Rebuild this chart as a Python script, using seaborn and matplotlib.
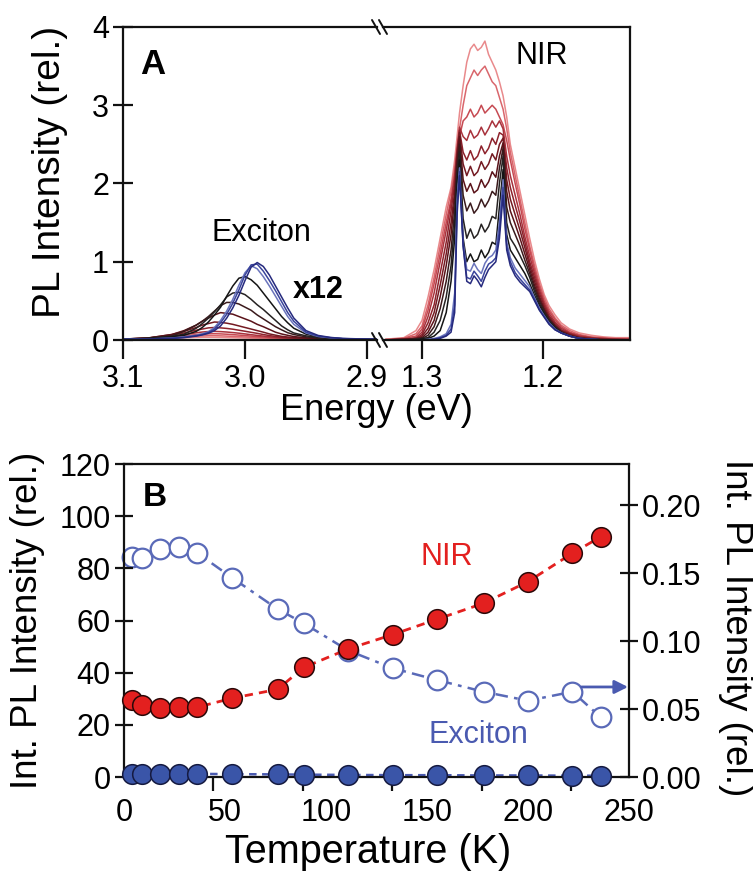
import matplotlib
matplotlib.use("Agg")
import matplotlib.pyplot as plt
import seaborn as sns
from matplotlib.lines import Line2D

# ---------------- Panel A data (spectra) ----------------
E_exc = [3.100, 3.080, 3.060, 3.050, 3.040, 3.035, 3.030, 3.025, 3.020, 3.015, 3.010, 3.005, 3.000,
         2.995, 2.990, 2.985, 2.980, 2.975, 2.970, 2.965, 2.960, 2.950, 2.940, 2.930, 2.920, 2.890]

exc0 = [0.010, 0.012, 0.020, 0.030, 0.050, 0.065, 0.085, 0.12, 0.18, 0.28, 0.41, 0.57, 0.76, 0.93, 0.99, 0.94, 0.83, 0.69, 0.55, 0.41, 0.28, 0.12, 0.058, 0.033, 0.020, 0.008]
exc1 = [0.010, 0.013, 0.022, 0.035, 0.055, 0.070, 0.095, 0.14, 0.22, 0.33, 0.47, 0.64, 0.83, 0.96, 0.97, 0.88, 0.76, 0.63, 0.49, 0.35, 0.24, 0.10, 0.050, 0.030, 0.018, 0.007]
exc2 = [0.010, 0.013, 0.025, 0.040, 0.060, 0.080, 0.105, 0.16, 0.25, 0.37, 0.52, 0.70, 0.86, 0.95, 0.91, 0.81, 0.69, 0.56, 0.43, 0.30, 0.20, 0.09, 0.045, 0.028, 0.017, 0.007]
exc3 = [0.012, 0.017, 0.040, 0.060, 0.11, 0.16, 0.23, 0.32, 0.42, 0.56, 0.69, 0.79, 0.81, 0.77, 0.70, 0.60, 0.50, 0.40, 0.30, 0.22, 0.15, 0.075, 0.040, 0.025, 0.016, 0.008]
exc4 = [0.011, 0.020, 0.045, 0.075, 0.15, 0.21, 0.28, 0.36, 0.45, 0.55, 0.60, 0.61, 0.58, 0.52, 0.45, 0.39, 0.32, 0.25, 0.18, 0.13, 0.09, 0.053, 0.030, 0.020, 0.014, 0.007]
exc5 = [0.012, 0.025, 0.054, 0.11, 0.19, 0.24, 0.30, 0.37, 0.44, 0.48, 0.48, 0.46, 0.42, 0.38, 0.32, 0.27, 0.22, 0.17, 0.13, 0.093, 0.070, 0.040, 0.025, 0.017, 0.012, 0.006]
exc6 = [0.012, 0.025, 0.070, 0.12, 0.19, 0.24, 0.28, 0.32, 0.35, 0.34, 0.33, 0.30, 0.27, 0.24, 0.20, 0.17, 0.135, 0.10, 0.077, 0.060, 0.044, 0.028, 0.018, 0.013, 0.010, 0.005]
exc7 = [0.012, 0.023, 0.070, 0.11, 0.16, 0.19, 0.21, 0.23, 0.225, 0.215, 0.20, 0.18, 0.16, 0.14, 0.12, 0.10, 0.078, 0.062, 0.047, 0.038, 0.030, 0.020, 0.014, 0.010, 0.008, 0.005]
exc8 = [0.012, 0.022, 0.060, 0.090, 0.125, 0.14, 0.155, 0.16, 0.155, 0.148, 0.138, 0.125, 0.112, 0.098, 0.085, 0.070, 0.057, 0.045, 0.036, 0.029, 0.024, 0.017, 0.012, 0.009, 0.007, 0.005]
exc9 = [0.012, 0.020, 0.045, 0.068, 0.092, 0.102, 0.108, 0.11, 0.107, 0.102, 0.095, 0.087, 0.078, 0.068, 0.059, 0.050, 0.041, 0.034, 0.028, 0.023, 0.019, 0.014, 0.011, 0.009, 0.007, 0.005]
exc10 = [0.012, 0.018, 0.036, 0.052, 0.068, 0.075, 0.079, 0.080, 0.078, 0.074, 0.069, 0.063, 0.057, 0.050, 0.044, 0.038, 0.032, 0.027, 0.023, 0.019, 0.016, 0.012, 0.010, 0.008, 0.007, 0.005]
exc11 = [0.011, 0.016, 0.028, 0.038, 0.048, 0.052, 0.055, 0.055, 0.053, 0.050, 0.047, 0.043, 0.039, 0.035, 0.031, 0.027, 0.024, 0.021, 0.018, 0.016, 0.014, 0.011, 0.009, 0.008, 0.007, 0.005]
exc12 = [0.010, 0.014, 0.022, 0.028, 0.033, 0.035, 0.035, 0.034, 0.033, 0.031, 0.029, 0.027, 0.025, 0.023, 0.021, 0.019, 0.017, 0.015, 0.014, 0.012, 0.011, 0.010, 0.008, 0.007, 0.006, 0.005]

E_nir = [1.330, 1.315, 1.305, 1.300, 1.295, 1.290, 1.285, 1.280, 1.276, 1.273, 1.271, 1.269,
         1.266, 1.263, 1.260, 1.257, 1.254, 1.251, 1.248, 1.245, 1.242, 1.239, 1.236, 1.233,
         1.230, 1.227, 1.223, 1.219, 1.215, 1.211, 1.207, 1.203, 1.199, 1.195,
         1.190, 1.185, 1.178, 1.170, 1.160, 1.150, 1.140, 1.125]

nir0 = [0.00, 0.00, 0.00, 0.00, 0.00, 0.01, 0.02, 0.05, 0.10, 0.35, 1.60, 2.10, 1.20, 0.75, 0.72, 0.82, 0.76, 0.68, 0.80, 0.90, 0.95, 1.00, 1.30, 1.85, 1.15, 0.95, 0.82, 0.74, 0.68, 0.62, 0.50, 0.38, 0.29, 0.20, 0.13, 0.09, 0.05, 0.02, 0.01, 0.00, 0.00, 0.00]
nir1 = [0.00, 0.00, 0.00, 0.00, 0.00, 0.01, 0.03, 0.06, 0.14, 0.45, 1.70, 2.15, 1.20, 0.80, 0.78, 0.88, 0.82, 0.75, 0.88, 0.97, 1.00, 1.05, 1.40, 1.95, 1.20, 1.00, 0.86, 0.78, 0.71, 0.64, 0.52, 0.39, 0.30, 0.21, 0.13, 0.09, 0.05, 0.02, 0.01, 0.00, 0.00, 0.00]
nir2 = [0.00, 0.00, 0.00, 0.00, 0.01, 0.02, 0.04, 0.08, 0.20, 0.60, 1.80, 2.20, 1.25, 0.90, 0.88, 0.98, 0.90, 0.85, 0.98, 1.05, 1.08, 1.15, 1.50, 2.05, 1.25, 1.05, 0.92, 0.84, 0.76, 0.68, 0.54, 0.41, 0.31, 0.22, 0.14, 0.09, 0.05, 0.02, 0.01, 0.00, 0.00, 0.00]
nir3 = [0.00, 0.00, 0.00, 0.01, 0.02, 0.05, 0.12, 0.35, 0.75, 1.30, 2.00, 2.30, 1.30, 1.00, 1.10, 1.00, 1.03, 1.15, 1.05, 1.12, 1.25, 1.22, 1.70, 2.18, 1.35, 1.15, 1.05, 0.95, 0.85, 0.72, 0.57, 0.44, 0.33, 0.23, 0.15, 0.09, 0.05, 0.02, 0.01, 0.00, 0.00, 0.00]
nir4 = [0.00, 0.00, 0.01, 0.02, 0.03, 0.10, 0.25, 0.55, 0.95, 1.50, 2.10, 2.40, 1.55, 1.30, 1.42, 1.30, 1.35, 1.48, 1.38, 1.45, 1.58, 1.55, 2.00, 2.35, 1.50, 1.30, 1.20, 1.08, 0.95, 0.80, 0.62, 0.47, 0.35, 0.25, 0.16, 0.10, 0.05, 0.02, 0.01, 0.00, 0.00, 0.00]
nir5 = [0.00, 0.00, 0.01, 0.02, 0.06, 0.17, 0.40, 0.75, 1.15, 1.65, 2.20, 2.50, 1.85, 1.65, 1.75, 1.62, 1.68, 1.80, 1.70, 1.78, 1.90, 1.85, 2.20, 2.45, 1.70, 1.50, 1.35, 1.20, 1.02, 0.85, 0.66, 0.50, 0.37, 0.26, 0.17, 0.10, 0.05, 0.02, 0.01, 0.00, 0.00, 0.00]
nir6 = [0.00, 0.01, 0.02, 0.03, 0.10, 0.25, 0.55, 0.95, 1.35, 1.80, 2.30, 2.60, 2.05, 1.90, 2.00, 1.88, 1.92, 2.05, 1.95, 2.02, 2.15, 2.08, 2.35, 2.52, 1.90, 1.65, 1.48, 1.30, 1.10, 0.90, 0.70, 0.53, 0.39, 0.27, 0.18, 0.11, 0.06, 0.03, 0.01, 0.00, 0.00, 0.00]
nir7 = [0.00, 0.01, 0.01, 0.05, 0.15, 0.35, 0.70, 1.10, 1.50, 1.90, 2.35, 2.65, 2.25, 2.10, 2.22, 2.10, 2.15, 2.28, 2.18, 2.25, 2.38, 2.30, 2.50, 2.58, 2.05, 1.80, 1.60, 1.40, 1.18, 0.95, 0.75, 0.56, 0.41, 0.29, 0.19, 0.12, 0.07, 0.03, 0.02, 0.01, 0.00, 0.00]
nir8 = [0.00, 0.01, 0.02, 0.07, 0.22, 0.45, 0.85, 1.25, 1.65, 2.00, 2.40, 2.68, 2.40, 2.30, 2.42, 2.30, 2.35, 2.48, 2.38, 2.45, 2.58, 2.50, 2.65, 2.62, 2.20, 1.95, 1.72, 1.50, 1.25, 1.00, 0.80, 0.60, 0.44, 0.31, 0.21, 0.13, 0.08, 0.04, 0.02, 0.01, 0.01, 0.00]
nir9 = [0.00, 0.01, 0.03, 0.10, 0.30, 0.60, 1.00, 1.40, 1.75, 2.10, 2.45, 2.72, 2.60, 2.55, 2.68, 2.58, 2.62, 2.72, 2.62, 2.70, 2.80, 2.72, 2.80, 2.70, 2.35, 2.10, 1.85, 1.60, 1.32, 1.07, 0.85, 0.64, 0.47, 0.34, 0.23, 0.15, 0.09, 0.05, 0.03, 0.02, 0.01, 0.01]
nir10 = [0.00, 0.02, 0.05, 0.14, 0.38, 0.72, 1.10, 1.50, 1.80, 2.10, 2.35, 2.60, 2.80, 2.85, 2.95, 2.85, 2.90, 3.00, 2.90, 2.95, 3.00, 2.95, 2.85, 2.75, 2.55, 2.30, 2.00, 1.72, 1.42, 1.15, 0.90, 0.68, 0.50, 0.37, 0.26, 0.17, 0.10, 0.06, 0.03, 0.02, 0.01, 0.01]
nir11 = [0.01, 0.02, 0.08, 0.18, 0.45, 0.80, 1.20, 1.60, 1.90, 2.20, 2.45, 2.70, 3.00, 3.25, 3.35, 3.45, 3.38, 3.45, 3.50, 3.40, 3.30, 3.25, 3.10, 2.95, 2.70, 2.40, 2.10, 1.80, 1.50, 1.20, 0.95, 0.72, 0.54, 0.40, 0.28, 0.19, 0.12, 0.07, 0.04, 0.03, 0.02, 0.02]
nir12 = [0.01, 0.03, 0.12, 0.25, 0.55, 0.90, 1.30, 1.70, 1.95, 2.30, 2.60, 2.90, 3.25, 3.55, 3.72, 3.78, 3.70, 3.74, 3.82, 3.65, 3.55, 3.45, 3.30, 3.12, 2.85, 2.50, 2.20, 1.90, 1.60, 1.30, 1.02, 0.78, 0.58, 0.44, 0.32, 0.22, 0.14, 0.09, 0.06, 0.04, 0.03, 0.03]

curve_colors = ['#262a7e', '#3a449c', '#6a74bc', '#151515', '#262222', '#3a1a1c',
                '#5a1219', '#741a22', '#8e222c', '#a8323c', '#c64a52', '#d9666c', '#e98a8c']

# ---------------- Panel B data ----------------
temperature = [4, 9, 18, 27, 36, 53.5, 76, 89, 111, 133, 155, 178, 200, 222, 236]
nir_int = [29.5, 27.6, 26.3, 26.7, 26.7, 30.2, 33.6, 42.0, 49.1, 54.6, 60.5, 66.6, 74.9, 85.8, 92.1]
exc_int_left = [1.2, 1.2, 1.3, 1.3, 1.2, 1.1, 1.0, 0.9, 0.8, 0.7, 0.7, 0.6, 0.6, 0.5, 0.5]
exc_int_right = [0.162, 0.161, 0.168, 0.169, 0.165, 0.1465, 0.1235, 0.113, 0.093, 0.080, 0.0713, 0.0627, 0.0561, 0.0627, 0.0439]
minor_tick_pos = [0, 44.2, 88.5, 132.7, 177, 221.2]

# ---------------- Styling ----------------
sns.set_theme(style="ticks")
plt.rcParams['font.family'] = ['Liberation Sans', 'DejaVu Sans']
plt.rcParams['axes.linewidth'] = 1.6
plt.rcParams['axes.edgecolor'] = '#111111'
plt.rcParams['text.color'] = 'black'

W, H = 753, 871
fig = plt.figure(figsize=(W / 100, H / 100), dpi=100)


def box(l, t, r, b):
    return [l / W, 1 - b / H, (r - l) / W, (b - t) / H]


TICK_FS = 22
LABEL_FS = 26

# ---------------- Panel A ----------------
axL = fig.add_axes(box(123, 27, 377, 340))
axR = fig.add_axes(box(383, 27, 630, 340))

exc_curves = [exc0, exc1, exc2, exc3, exc4, exc5, exc6, exc7, exc8, exc9, exc10, exc11, exc12]
nir_curves = [nir0, nir1, nir2, nir3, nir4, nir5, nir6, nir7, nir8, nir9, nir10, nir11, nir12]
for i in reversed(range(len(exc_curves))):
    sns.lineplot(x=E_exc, y=exc_curves[i], color=curve_colors[i], lw=1.1, ax=axL,
                 sort=False, estimator=None, legend=False)
for i in reversed(range(len(nir_curves))):
    sns.lineplot(x=E_nir, y=nir_curves[i], color=curve_colors[i], lw=1.1, ax=axR,
                 sort=False, estimator=None, legend=False)

axL.set_xlim(3.1, 3.1 - (377 - 123) / 1220)
axR.set_xlim(1.3 + (422 - 383) / 1210, 1.3 - (630 - 422) / 1210)
for ax in (axL, axR):
    ax.set_ylim(0, 4)
    ax.set_xlabel('')
    ax.set_ylabel('')
axL.spines['right'].set_visible(False)
axR.spines['left'].set_visible(False)

axL.set_xticks([3.1, 3.0, 2.9])
axL.set_xticklabels(['3.1', '3.0', '2.9'])
axR.set_xticks([1.3, 1.2])
axR.set_xticklabels(['1.3', '1.2'])
axL.set_yticks([0, 1, 2, 3, 4])
axL.set_yticklabels(['0', '1', '2', '3', '4'])
axR.set_yticks([])
for ax in (axL, axR):
    ax.tick_params(axis='x', direction='out', length=14, width=1.6, labelsize=TICK_FS, pad=3,
                   color='#111111', labelcolor='black')
axL.tick_params(axis='y', direction='inout', length=14, width=1.6, labelsize=TICK_FS, pad=3,
                color='#111111', labelcolor='black')

# break marks
for xb in (376, 383):
    for yb in (27, 340):
        fig.add_artist(Line2D([(xb - 4) / W, (xb + 4) / W], [1 - (yb - 7) / H, 1 - (yb + 7) / H],
                              color='#111111', lw=1.4, transform=fig.transFigure))

fig.text(50 / W, 1 - 172 / H, 'PL Intensity (rel.)', rotation=90, ha='center', va='center', fontsize=28)
fig.text(376 / W, 1 - 410 / H, 'Energy (eV)', ha='center', va='center', fontsize=LABEL_FS)
fig.text(153 / W, 1 - 64 / H, 'A', ha='center', va='center', fontsize=25, fontweight='bold')
fig.text(261 / W, 1 - 233 / H, 'Exciton', ha='center', va='center', fontsize=22)
fig.text(318 / W, 1 - 290 / H, 'x12', ha='center', va='center', fontsize=22, fontweight='bold')
fig.text(542 / W, 1 - 56 / H, 'NIR', ha='center', va='center', fontsize=22)

# ---------------- Panel B ----------------
axB = fig.add_axes(box(124, 464, 629, 777))
ax2 = axB.twinx()

red_face = '#e3201f'
blue_face = '#3a55a8'
open_edge = '#5a6ab8'

sns.lineplot(x=temperature, y=exc_int_right, color=open_edge, lw=1.8, linestyle=(0, (5, 2.5, 1.5, 2.5)),
             ax=ax2, sort=False, estimator=None, legend=False)
sns.scatterplot(x=temperature, y=exc_int_right, s=200, facecolor='white', edgecolor=open_edge,
                linewidth=1.6, ax=ax2, zorder=3, clip_on=False, legend=False)

sns.lineplot(x=temperature, y=nir_int, color=red_face, lw=2.0, linestyle=(0, (3, 2.2)),
             ax=axB, sort=False, estimator=None, legend=False)
sns.lineplot(x=temperature, y=exc_int_left, color='#4a5ab0', lw=1.8, linestyle=(0, (3, 2.2)),
             ax=axB, sort=False, estimator=None, legend=False)
sns.scatterplot(x=temperature, y=exc_int_left, s=200, color=blue_face, edgecolor='#151a40',
                linewidth=1.1, ax=axB, zorder=4, clip_on=False, legend=False)
sns.scatterplot(x=temperature, y=nir_int, s=200, color=red_face, edgecolor='#2a0808',
                linewidth=1.1, ax=axB, zorder=4, clip_on=False, legend=False)

axB.set_zorder(ax2.get_zorder() + 1)
axB.patch.set_visible(False)

axB.set_xlim(0, 250)
axB.set_ylim(0, 120)
ax2.set_ylim(0, 0.20 * 313 / 272)

axB.set_xticks([0, 50, 100, 150, 200, 250])
axB.set_xticklabels(['0', '50', '100', '150', '200', '250'])
axB.set_xticks(minor_tick_pos, minor=True)
axB.tick_params(axis='x', which='major', length=0, labelsize=TICK_FS, pad=15, labelcolor='black')
axB.tick_params(axis='x', which='minor', direction='out', length=10, width=1.6, color='#111111')
axB.set_yticks([0, 20, 40, 60, 80, 100, 120])
axB.set_yticklabels(['0', '20', '40', '60', '80', '100', '120'])
axB.tick_params(axis='y', direction='inout', length=13, width=1.6, labelsize=TICK_FS, pad=3,
                color='#111111', labelcolor='black')
ax2.set_yticks([0, 0.05, 0.10, 0.15, 0.20])
ax2.set_yticklabels(['0.00', '0.05', '0.10', '0.15', '0.20'])
ax2.tick_params(axis='y', direction='inout', length=13, width=1.6, labelsize=TICK_FS, pad=3,
                color='#111111', labelcolor='black')
for sp in ax2.spines.values():
    sp.set_visible(False)
for sp in axB.spines.values():
    sp.set_visible(True)
    sp.set_linewidth(1.6)

axB.set_xlabel('')
axB.set_ylabel('')
ax2.set_ylabel('')
fig.text(368 / W, 1 - 852 / H, 'Temperature (K)', ha='center', va='center', fontsize=28.5)
fig.text(28 / W, 1 - 620 / H, 'Int. PL Intensity (rel.)', rotation=90, ha='center', va='center', fontsize=26.5)
fig.text(736 / W, 1 - 628 / H, 'Int. PL Intensity (rel.)', rotation=270, ha='center', va='center', fontsize=26.5)
fig.text(155 / W, 1 - 497 / H, 'B', ha='center', va='center', fontsize=24, fontweight='bold')
fig.text(447 / W, 1 - 557 / H, 'NIR', ha='center', va='center', fontsize=22, color=red_face)
fig.text(478 / W, 1 - 735 / H, 'Exciton', ha='center', va='center', fontsize=22, color='#4a5ab0')

ax2.annotate('', xy=(249.5, 0.0662), xytext=(226.5, 0.0662),
             arrowprops=dict(arrowstyle='-|>', color='#4a5ab0', lw=2.0, mutation_scale=20,
                             shrinkA=0, shrinkB=0))

fig.savefig('out.png', dpi=100)
